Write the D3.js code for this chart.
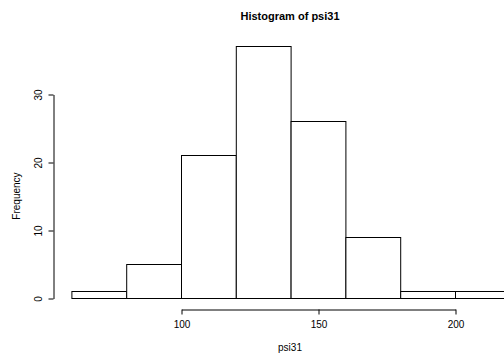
<!DOCTYPE html>
<html>
<head>
<meta charset="utf-8">
<script src="https://cdn.jsdelivr.net/npm/d3@7"></script>
<style>
  body { margin: 0; background: #fff; }
  svg text { font-family: "Liberation Sans", Arial, sans-serif; fill: #000; }
</style>
</head>
<body>
<svg width="504" height="353"></svg>
<script>
// histogram bins (psi31)
const binEdges = [60, 80, 100, 120, 140, 160, 180, 200, 220]
const counts = [1, 5, 21, 37, 26, 9, 1, 1]
const xTicks = [100, 150, 200]
const yTicks = [0, 10, 20, 30]

const svg = d3.select('svg')

const xScale = d3.scaleLinear()
  .domain([100, 200])
  .range([181, 455])

const yScale = d3.scaleLinear()
  .domain([0, 30])
  .range([298, 94])

const bins = counts.map((c, i) => ({x0: binEdges[i], x1: binEdges[i + 1], n: c}))

svg.append('g')
  .selectAll('rect')
  .data(bins)
  .enter()
  .append('rect')
  .attr('x', d => xScale(d.x0) + 0.5)
  .attr('y', d => Math.round(yScale(d.n)) + 0.5)
  .attr('width', d => xScale(d.x1) - xScale(d.x0))
  .attr('height', d => Math.round(yScale(0)) - Math.round(yScale(d.n)))
  .attr('fill', 'white')
  .attr('stroke', '#000')
  .attr('stroke-width', 1)

// x axis
const xAxis = svg.append('g')
  .attr('transform', 'translate(0.5, 309.5)')
  .call(d3.axisBottom(xScale).tickValues(xTicks).tickSize(5).tickSizeOuter(0).tickPadding(6))
xAxis.selectAll('text').attr('font-size', 10).attr('font-family', 'Liberation Sans, Arial, sans-serif')
xAxis.selectAll('path, line').attr('stroke', '#000')

// y axis
const yAxis = svg.append('g')
  .attr('transform', 'translate(53.5, 0.5)')
  .call(d3.axisLeft(yScale).tickValues(yTicks).tickSize(5).tickSizeOuter(0))
yAxis.selectAll('path, line').attr('stroke', '#000')
// R draws the y labels turned, parallel to the axis
yAxis.selectAll('text')
  .attr('font-size', 10)
  .attr('font-family', 'Liberation Sans, Arial, sans-serif')
  .attr('text-anchor', 'middle')
  .attr('x', 0)
  .attr('y', 0)
  .attr('dy', 0)
  .attr('transform', 'translate(-12, 0) rotate(-90)')

svg.append('text')
  .attr('x', 290)
  .attr('y', 20)
  .attr('text-anchor', 'middle')
  .attr('font-size', 11)
  .attr('font-weight', 'bold')
  .text('Histogram of psi31')

svg.append('text')
  .attr('x', 290)
  .attr('y', 351)
  .attr('text-anchor', 'middle')
  .attr('font-size', 10)
  .text('psi31')

svg.append('text')
  .attr('transform', 'translate(20, 196) rotate(-90)')
  .attr('text-anchor', 'middle')
  .attr('font-size', 10)
  .text('Frequency')
</script>
</body>
</html>
